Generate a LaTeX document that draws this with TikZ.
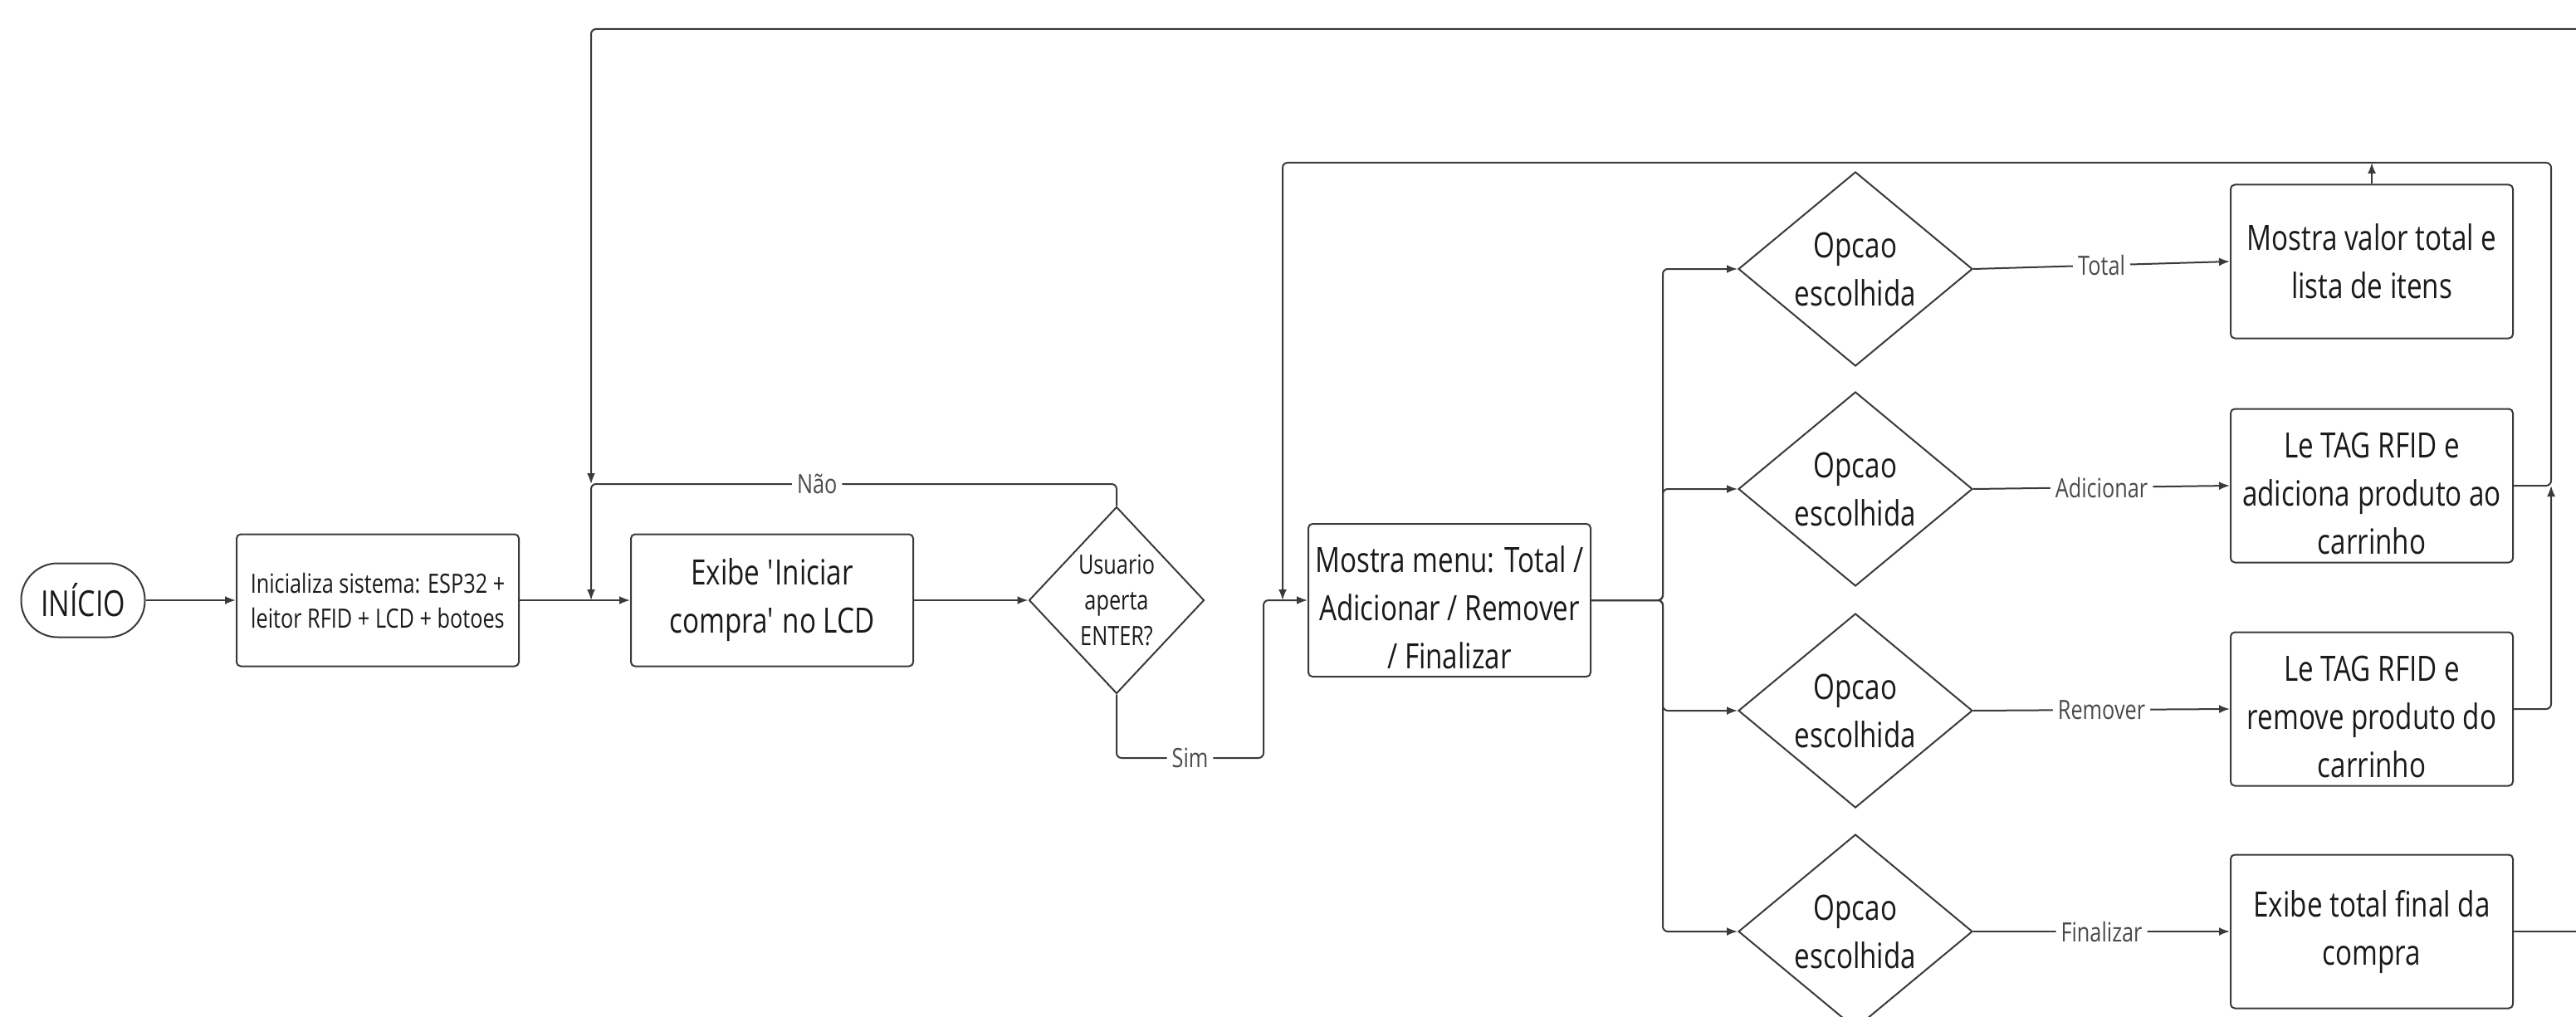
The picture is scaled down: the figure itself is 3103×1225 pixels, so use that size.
\documentclass[tikz,border=0pt]{standalone}
\usepackage{fontspec}
\setmainfont{Open Sans}[FakeStretch=0.79]
\usetikzlibrary{arrows.meta,shapes.geometric}
\definecolor{ln}{HTML}{3A3A3A}
\definecolor{tx}{HTML}{1A1A1A}
\definecolor{lb}{HTML}{4A4A4A}
\begin{document}
\begin{tikzpicture}[x=1pt,y=-1pt,
  box/.style={draw=ln, line width=2pt, rounded corners=5pt, fill=white, text=tx, align=center,
    font=\fontsize{42}{58}\selectfont, minimum width=340pt, minimum height=185pt, inner sep=0pt},
  btext/.style={text=tx, align=center, font=\fontsize{42}{58}\selectfont, inner sep=0pt, yshift=-9pt},
  term/.style={draw=ln, line width=2pt, rounded corners=44pt, fill=white, text=tx,
    font=\fontsize{43}{48}\selectfont, minimum width=149pt, minimum height=89pt, inner sep=0pt},
  dia/.style={diamond, draw=ln, line width=2pt, fill=white, inner sep=0pt, minimum width=282pt, minimum height=234pt},
  dtext/.style={text=tx, align=center, font=\fontsize{42}{58}\selectfont, inner sep=0pt},
  conn/.style={draw=ln, line width=2pt, rounded corners=6pt},
  arr/.style={-{Latex[length=13pt,width=10pt]}},
  lab/.style={fill=white, text=lb, font=\fontsize{32}{35}\selectfont, inner sep=6pt}]
\useasboundingbox (0,0) rectangle (3103,1225);
\clip (0,0) rectangle (3103,1225);
\fill[white] (0,0) rectangle (3103,1225);

% nodes
\node[term] (start) at (100,723) {INÍCIO};
\node[box, minimum height=159pt, font=\fontsize{32}{42}\selectfont] (init) at (455,723) {Inicializa sistema: ESP32 +\\leitor RFID + LCD + botoes};
\node[box, minimum height=159pt] (ex) at (930,723) {Exibe \textquotesingle Iniciar\\compra\textquotesingle{} no LCD};
\node[dia, minimum width=211pt, minimum height=225pt,
  label={[dtext, font=\fontsize{32}{43}\selectfont]center:{Usuario\\aperta\\ENTER?}}] (d1) at (1345,723) {};
\node[box, minimum height=184pt, label={[btext]center:{Mostra menu: Total /\\Adicionar / Remover\\/ Finalizar}}] (menu) at (1746,723) {};

\node[dia, label={[dtext]center:{Opcao\\escolhida}}] (o1) at (2235,324) {};
\node[dia, label={[dtext]center:{Opcao\\escolhida}}] (o2) at (2235,589) {};
\node[dia, label={[dtext]center:{Opcao\\escolhida}}] (o3) at (2235,856) {};
\node[dia, label={[dtext]center:{Opcao\\escolhida}}] (o4) at (2235,1122) {};

\node[box] (b1) at (2857,315) {Mostra valor total e\\lista de itens};
\node[box, label={[btext]center:{Le TAG RFID e\\adiciona produto ao\\carrinho}}] (b2) at (2857,585) {};
\node[box, label={[btext]center:{Le TAG RFID e\\remove produto do\\carrinho}}] (b3) at (2857,854) {};
\node[box] (b4) at (2857,1122) {Exibe total final da\\compra};

% helper coordinates
\coordinate (j1) at (712,723);
\coordinate (j2) at (712,583);
\coordinate (s1) at (1522,913);
\coordinate (l1) at (1545,196);
\coordinate (l2) at (1545,723);
\coordinate (r1) at (3073,585);
\coordinate (br) at (2003,723);
\coordinate (t0) at (3120,35);
\coordinate (e1) at (3120,1122);

% connectors
\draw[conn,arr] (start) -- (init);
\draw[conn,arr] (init) -- (ex);
\draw[conn,arr] (ex) -- (d1);
\draw[conn,arr] (t0) -| (j2);
\draw[conn,arr] (d1.north) |- node[lab,pos=0.785]{Não} (j2) -- (j1);
\draw[conn,arr] (d1.south) |- node[lab,pos=0.75]{Sim} (s1) |- (menu.west);
\draw[conn,arr] (b2.east) -- (r1) |- (l1) -- (l2);
\draw[conn,arr] (b1.north) -- (b1.north |- l1);
\draw[conn,arr] (b3.east) -| (r1);
\draw[conn] (b4.east) -- (e1);

\draw[conn,arr] (menu.east) -- (br) |- (o1.west);
\draw[conn,arr] (menu.east) -- (br) |- (o2.west);
\draw[conn,arr] (menu.east) -- (br) |- (o3.west);
\draw[conn,arr] (menu.east) -- (br) |- (o4.west);

\draw[conn,arr] (o1.east) -- node[lab]{Total} (b1.west);
\draw[conn,arr] (o2.east) -- node[lab]{Adicionar} (b2.west);
\draw[conn,arr] (o3.east) -- node[lab]{Remover} (b3.west);
\draw[conn,arr] (o4.east) -- node[lab]{Finalizar} (b4.west);
\end{tikzpicture}
\end{document}
